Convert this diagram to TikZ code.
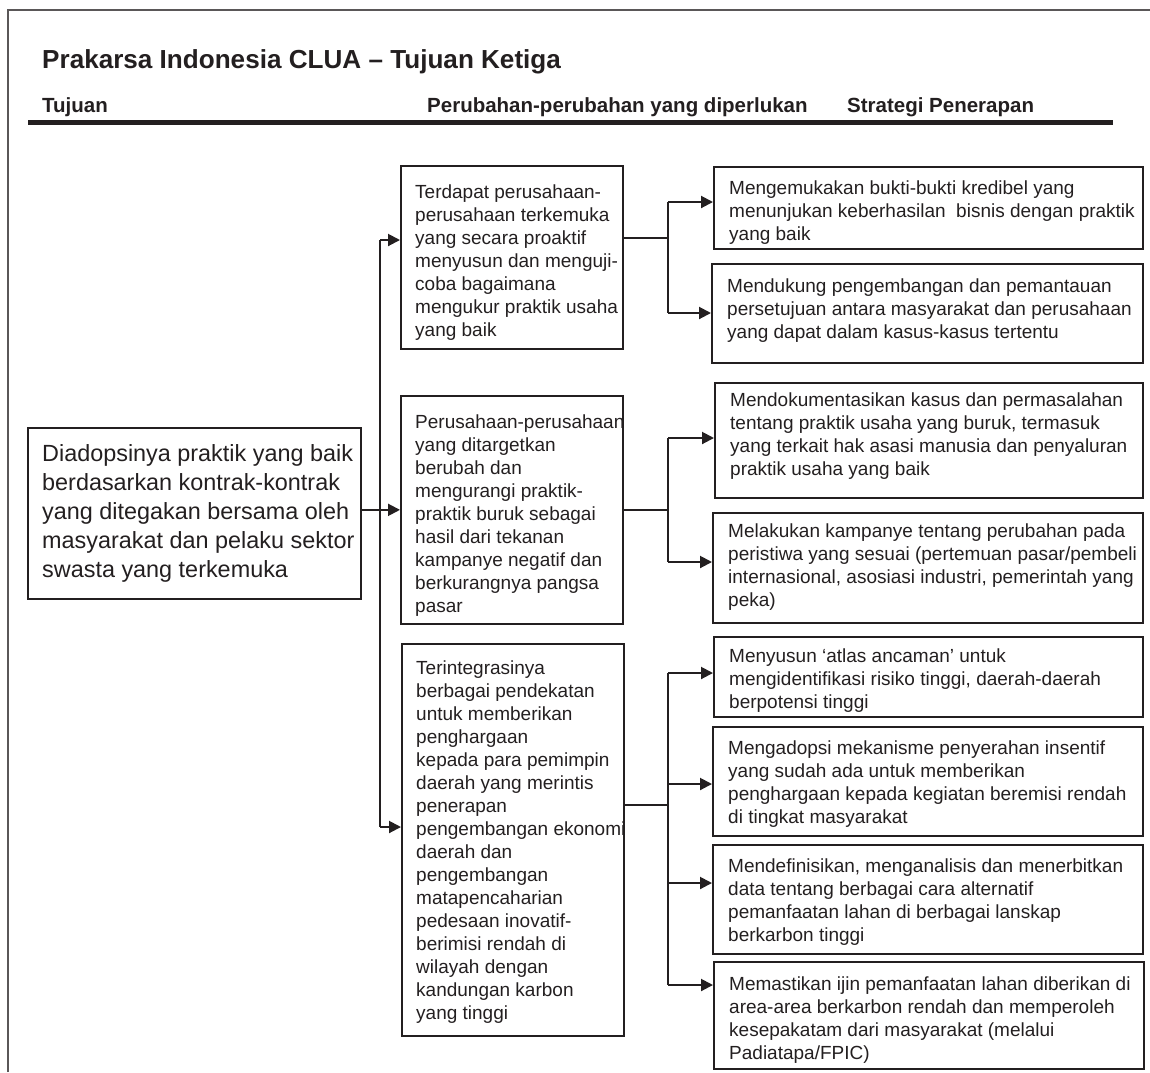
\documentclass[tikz,border=0pt]{standalone}
\usepackage{fontspec}
\setmainfont{Liberation Sans}
\usetikzlibrary{arrows.meta}
\definecolor{ink}{RGB}{35,31,32}
\newcommand\bodyfnt{\fontsize{19}{23}\selectfont}
\newcommand\bigfnt{\fontsize{23.4}{29}\selectfont}
\tikzset{
  box/.style={draw=ink, line width=1.7pt, inner sep=0pt, anchor=north west},
  txt/.style={anchor=west, align=left, inner sep=0pt, text=ink, font=\bodyfnt},
  arr/.style={draw=ink, line width=2pt, -{Triangle[length=12pt,width=12pt]}},
  ln/.style={draw=ink, line width=2pt},
  hdr/.style={anchor=base west, inner sep=0pt, text=ink, font=\fontsize{20.5}{24}\selectfont\bfseries},
}
\begin{document}
\begin{tikzpicture}[x=1pt,y=-1pt]
\useasboundingbox (0,0) rectangle (1150,1072);
% frame
\draw[ink!75, line width=1.3pt] (8,1072) -- (8,10) -- (1150,10);
% title and headers
\node[hdr, font=\fontsize{26.1}{30}\selectfont\bfseries] (title) at (42,68) {Prakarsa Indonesia CLUA -- Tujuan Ketiga};
\node[hdr] (h1) at (42,112) {Tujuan};
\node[hdr] (h2) at (427,112) {Perubahan-perubahan yang diperlukan};
\node[hdr] (h3) at (847,112) {Strategi Penerapan};
\draw[ink, line width=4.5pt] (28,122.5) -- (1113,122.5);

% left box
\node[box, minimum width=333pt, minimum height=171pt] (L) at (27,427) {};
\node[txt, font=\bigfnt] (Lt) at ([xshift=15pt]L.west) {Diadopsinya praktik yang baik\\berdasarkan kontrak-kontrak\\yang ditegakan bersama oleh\\masyarakat dan pelaku sektor\\swasta yang terkemuka};

% middle boxes
\node[box, minimum width=222pt, minimum height=183pt] (M1) at (400,165) {};
\node[txt, yshift=-5pt] (M1t) at ([xshift=15pt]M1.west) {Terdapat perusahaan-\\perusahaan terkemuka\\yang secara proaktif\\menyusun dan menguji-\\coba bagaimana\\mengukur praktik usaha\\yang baik};

\node[box, minimum width=222pt, minimum height=228pt] (M2) at (400,395) {};
\node[txt, yshift=-6pt] (M2t) at ([xshift=15pt]M2.west) {Perusahaan-perusahaan\\yang ditargetkan\\berubah dan\\mengurangi praktik-\\praktik buruk sebagai\\hasil dari tekanan\\kampanye negatif dan\\berkurangnya pangsa\\pasar};

\node[box, minimum width=222pt, minimum height=392pt] (M3) at (401,643) {};
\node[txt, yshift=-2.5pt] (M3t) at ([xshift=15pt]M3.west) {Terintegrasinya\\berbagai pendekatan\\untuk memberikan\\penghargaan\\kepada para pemimpin\\daerah yang merintis\\penerapan\\pengembangan ekonomi\\daerah dan\\pengembangan\\matapencaharian\\pedesaan inovatif-\\berimisi rendah di\\wilayah dengan\\kandungan karbon\\yang tinggi};

% right boxes
\node[box, minimum width=429pt, minimum height=82pt] (R1) at (713,166) {};
\node[txt, yshift=-5pt] (R1t) at ([xshift=16pt]R1.west) {Mengemukakan bukti-bukti kredibel yang\\menunjukan keberhasilan\ \ bisnis dengan praktik\\yang baik};

\node[box, minimum width=431pt, minimum height=99pt] (R2) at (711,263) {};
\node[txt, yshift=2.5pt] (R2t) at ([xshift=16pt]R2.west) {Mendukung pengembangan dan pemantauan\\persetujuan antara masyarakat dan perusahaan\\yang dapat dalam kasus-kasus tertentu};

\node[box, minimum width=428pt, minimum height=115pt] (R3) at (714,382) {};
\node[txt, yshift=4.5pt] (R3t) at ([xshift=16pt]R3.west) {Mendokumentasikan kasus dan permasalahan\\tentang praktik usaha yang buruk, termasuk\\yang terkait hak asasi manusia dan penyaluran\\praktik usaha yang baik};

\node[box, minimum width=430pt, minimum height=110pt] (R4) at (712,512) {};
\node[txt, yshift=1pt] (R4t) at ([xshift=16pt]R4.west) {Melakukan kampanye tentang perubahan pada\\peristiwa yang sesuai (pertemuan pasar/pembeli\\internasional, asosiasi industri, pemerintah yang\\peka)};

\node[box, minimum width=429pt, minimum height=80pt] (R5) at (713,636) {};
\node[txt, yshift=-3.5pt] (R5t) at ([xshift=16pt]R5.west) {Menyusun ‘atlas ancaman’ untuk\\mengidentifikasi risiko tinggi, daerah-daerah\\berpotensi tinggi};

\node[box, minimum width=430pt, minimum height=109pt] (R6) at (712,726) {};
\node[txt, yshift=-2.5pt] (R6t) at ([xshift=16pt]R6.west) {Mengadopsi mekanisme penyerahan insentif\\yang sudah ada untuk memberikan\\penghargaan kepada kegiatan beremisi rendah\\di tingkat masyarakat};

\node[box, minimum width=430pt, minimum height=109pt] (R7) at (712,844) {};
\node[txt, yshift=-2.5pt] (R7t) at ([xshift=16pt]R7.west) {Mendefinisikan, menganalisis dan menerbitkan\\data tentang berbagai cara alternatif\\pemanfaatan lahan di berbagai lanskap\\berkarbon tinggi};

\node[box, minimum width=430pt, minimum height=107pt] (R8) at (713,961) {};
\node[txt, yshift=-4.5pt] (R8t) at ([xshift=16pt]R8.west) {Memastikan ijin pemanfaatan lahan diberikan di\\area-area berkarbon rendah dan memperoleh\\kesepakatam dari masyarakat (melalui\\Padiatapa/FPIC)};

% trunk from left box
\coordinate (tTop) at (380,240);
\coordinate (tBot) at (380,827);
\draw[ln] (tTop) -- (tBot);
\draw[arr] (L.east |- M2.west) -- (M2.west);
\draw[arr] (tTop) -- (tTop -| M1.west);
\draw[arr] (tBot) -- (tBot -| M3.west);

% bus 1
\coordinate (b1) at (668,238);
\coordinate (a1) at (668,202);
\coordinate (a2) at (668,313);
\draw[ln] (M1.east |- b1) -- (b1);
\draw[ln] (a1) -- (a2);
\draw[arr] (a1) -- (a1 -| R1.west);
\draw[arr] (a2) -- (a2 -| R2.west);

% bus 2
\coordinate (b2) at (668,510);
\coordinate (a3) at (668,438);
\coordinate (a4) at (668,562);
\draw[ln] (M2.east |- b2) -- (b2);
\draw[ln] (a3) -- (a4);
\draw[arr] (a3) -- (a3 -| R3.west);
\draw[arr] (a4) -- (a4 -| R4.west);

% bus 3
\coordinate (b3) at (668,805);
\coordinate (a5) at (668,673);
\coordinate (a6) at (668,784);
\coordinate (a7) at (668,883);
\coordinate (a8) at (668,985);
\draw[ln] (M3.east |- b3) -- (b3);
\draw[ln] (a5) -- (a8);
\draw[arr] (a5) -- (a5 -| R5.west);
\draw[arr] (a6) -- (a6 -| R6.west);
\draw[arr] (a7) -- (a7 -| R7.west);
\draw[arr] (a8) -- (a8 -| R8.west);
\end{tikzpicture}
\end{document}
